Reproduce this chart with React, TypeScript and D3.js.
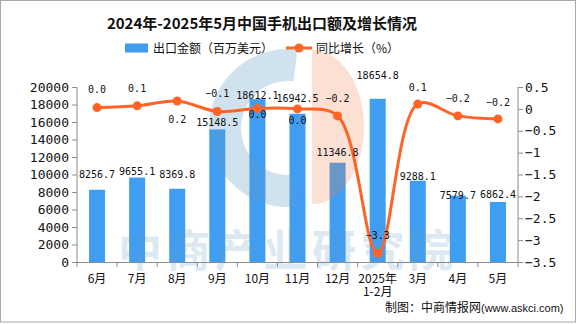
import React from 'react';
import * as d3 from 'd3';

const categories = ['6月', '7月', '8月', '9月', '10月', '11月', '12月', '2025年|1-2月', '3月', '4月', '5月'];
const exportValues = [8256.7, 9655.1, 8369.8, 15148.5, 18612.1, 16942.5, 11346.8, 18654.8, 9288.1, 7579.7, 6862.4];
const growthValues = [0.03, 0.07, 0.18, -0.06, 0.01, 0.0, -0.16, -3.3, 0.11, -0.16, -0.23];
const leftTicks = [0, 2000, 4000, 6000, 8000, 10000, 12000, 14000, 16000, 18000, 20000];
const rightTicks = [-3.5, -3, -2.5, -2, -1.5, -1, -0.5, 0, 0.5];

// label layout offsets (pixels, relative to mark)
const barLabelDy = [-15, -6.5, -14, -7.5, -4, -15, -10, -23, -4, 0, -7.6];
const lineLabelDy = [-18, -17, 18, -18, 6, 12, -17, -18, -17, -17, -17];

const W = 576;
const H = 324;
const plotLeft = 77;
const plotRight = 518;
const plotTop = 87;
const plotBottom = 262;

const BLUE = '#3f9df2';
const ORANGE = '#ff6426';
const AXIS = '#8c8c8c';
const MONO = '"DejaVu Sans Mono", monospace';
const CJK = '"Noto Sans CJK SC", sans-serif';

export default function App() {
  const x = d3.scaleBand<string>().domain(categories).range([plotLeft, plotRight]).padding(0);
  const yL = d3.scaleLinear().domain([0, 20000]).range([plotBottom, plotTop]);
  const yR = d3.scaleLinear().domain([-3.5, 0.5]).range([plotBottom, plotTop]);
  const bw = 16;
  const cx = (c: string) => (x(c) as number) + x.bandwidth() / 2;
  const fmt1 = d3.format('.1f');
  const fmtAxis = d3.format('~f');

  const line = d3
    .line<number>()
    .x((_, i) => cx(categories[i]))
    .y((v) => yR(v))
    .curve(d3.curveCatmullRom.alpha(0.5));

  const cArc = d3.arc()({
    innerRadius: 47,
    outerRadius: 79,
    startAngle: Math.PI - 0.12,
    endAngle: 2 * Math.PI + 0.12,
  } as any) as string;

  const boundaries = d3.range(categories.length + 1).map((i) => plotLeft + i * x.bandwidth());

  return (
    <svg
      width={W}
      height={H}
      style={{ position: 'fixed', left: 0, top: 0, background: '#fff' }}
      xmlns="http://www.w3.org/2000/svg"
    >
      <rect x={0} y={0} width={W} height={H} fill="#fff" />
      <rect x={0.5} y={0.5} width={575} height={321.5} fill="none" stroke="#a8a8a8" />

      {/* title */}
      <text x={262} y={28.5} textAnchor="middle" fontFamily={CJK} fontWeight={700} fontSize={15} fill="#111">
        2024年-2025年5月中国手机出口额及增长情况
      </text>

      {/* legend */}
      <rect x={125} y={43.5} width={23} height={9} fill={BLUE} />
      <text x={153} y={52.5} fontFamily={CJK} fontSize={12} fill="#111">
        出口金额（百万美元）
      </text>
      <line x1={286} x2={312} y1={48} y2={48} stroke={ORANGE} strokeWidth={3} />
      <circle cx={299} cy={48} r={4.5} fill={ORANGE} />
      <text x={316} y={52.5} fontFamily={CJK} fontSize={12} fill="#111">
        同比增长（%）
      </text>

      {/* bars */}
      {exportValues.map((v, i) => (
        <rect
          key={'b' + i}
          x={cx(categories[i]) - bw / 2}
          y={yL(v)}
          width={bw}
          height={plotBottom - yL(v)}
          fill={BLUE}
        />
      ))}

      {/* watermark logo */}
      <g>
        <path d={cArc} transform="translate(288,128)" fill="rgb(100,160,200)" opacity={0.3} />
        <path d={`M312,50 A52,77 0 0 1 312,204 Z`} fill="rgb(240,130,80)" opacity={0.25} />
      </g>

      {/* axes */}
      <line x1={plotLeft} x2={plotLeft} y1={plotTop} y2={plotBottom} stroke={AXIS} />
      <line x1={plotRight} x2={plotRight} y1={plotTop} y2={plotBottom} stroke={AXIS} />
      <line x1={plotLeft} x2={plotRight} y1={plotBottom + 0.5} y2={plotBottom + 0.5} stroke={AXIS} />
      {leftTicks.map((t) => (
        <g key={'l' + t}>
          <line x1={plotLeft - 5} x2={plotLeft} y1={yL(t) + 0.5} y2={yL(t) + 0.5} stroke={AXIS} />
          <text x={plotLeft - 8} y={yL(t)} dy="0.36em" textAnchor="end" fontFamily={MONO} fontSize={13} fill="#111">
            {t}
          </text>
        </g>
      ))}
      {rightTicks.map((t) => (
        <g key={'r' + t}>
          <line x1={plotRight} x2={plotRight + 5} y1={yR(t) + 0.5} y2={yR(t) + 0.5} stroke={AXIS} />
          <text x={plotRight + 7} y={yR(t)} dy="0.36em" textAnchor="start" fontFamily={MONO} fontSize={13} fill="#111">
            {fmtAxis(t)}
          </text>
        </g>
      ))}
      {boundaries.map((b, i) => (
        <line key={'xt' + i} x1={b} x2={b} y1={plotBottom} y2={plotBottom + 5} stroke={AXIS} />
      ))}

      {/* watermark text */}
      <text x={118} y={267} fontFamily={CJK} fontWeight={700} fontSize={44} fill="rgb(100,160,200)" opacity={0.22} textLength={335}>
        中商产业研究院
      </text>

      {categories.map((c) => {
        const parts = c.split('|');
        return (
          <text key={'xl' + c} x={cx(c)} textAnchor="middle" fontFamily={CJK} fontSize={12} fill="#111">
            {parts.map((p, j) => (
              <tspan key={j} x={cx(c)} y={282.5 + j * 13}>
                {p}
              </tspan>
            ))}
          </text>
        );
      })}

      {/* line */}
      <path d={line(growthValues) as string} fill="none" stroke={ORANGE} strokeWidth={3} />
      {growthValues.map((v, i) => (
        <circle key={'p' + i} cx={cx(categories[i])} cy={yR(v)} r={4.5} fill={ORANGE} />
      ))}

      {/* bar labels */}
      {exportValues.map((v, i) => (
        <text
          key={'bl' + i}
          x={cx(categories[i])}
          y={yL(v) + barLabelDy[i]}
          dy="0.36em"
          textAnchor="middle"
          fontFamily={MONO}
          fontSize={10}
          fill="#111"
        >
          {fmt1(v)}
        </text>
      ))}
      {/* line labels */}
      {growthValues.map((v, i) => (
        <text
          key={'gl' + i}
          x={cx(categories[i])}
          y={yR(v) + lineLabelDy[i]}
          dy="0.36em"
          textAnchor="middle"
          fontFamily={MONO}
          fontSize={10}
          fill="#111"
        >
          {fmt1(v)}
        </text>
      ))}

      {/* footer */}
      <text x={385} y={312} fontFamily={CJK} fontSize={12} fill="#111">
        制图：中商情报网
        <tspan fontFamily='"Liberation Sans", sans-serif' fontSize={11}>(www.askci.com)</tspan>
      </text>
    </svg>
  );
}
